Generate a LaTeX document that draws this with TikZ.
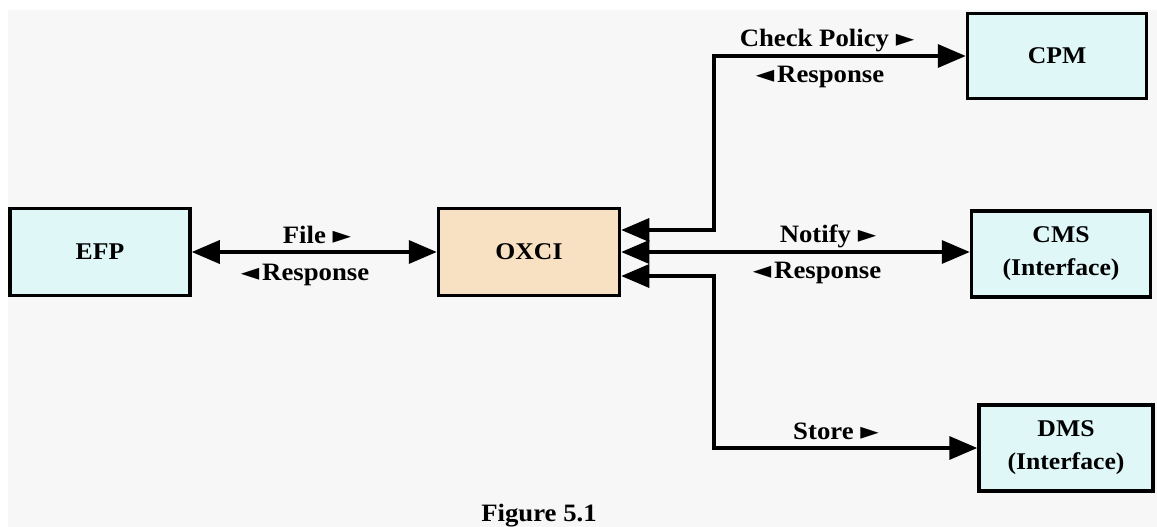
\documentclass[tikz,border=0pt]{standalone}
\usepackage{fontspec}
\setmainfont[FakeStretch=1.07]{Liberation Serif}
\newfontfamily\symfont{DejaVu Sans}
\usetikzlibrary{arrows.meta}
\definecolor{pagegray}{HTML}{F7F7F7}
\definecolor{boxcyan}{HTML}{DFF7F7}
\definecolor{boxtan}{HTML}{F8E1C2}
% direction markers next to message names
\newcommand\rtri{{\symfont\fontsize{24}{24}\selectfont ►}}
\newcommand\ltri{{\symfont\fontsize{24}{24}\selectfont ◄}}
\tikzset{
  unit/.style={draw=black, line width=3.5pt, fill=boxcyan, inner sep=0pt,
    align=center, font=\bfseries\fontsize{24}{33}\selectfont},
  flow/.style={line width=3.5pt,
    {Triangle[length=28pt,width=23pt]}-{Triangle[length=28pt,width=23pt]}},
  msg/.style={anchor=base, inner sep=0pt, font=\bfseries\fontsize{25}{25}\selectfont},
}
\begin{document}
\begin{tikzpicture}[x=1pt,y=-1pt]
  \useasboundingbox (0,0) rectangle (1157,527);
  \clip (0,0) rectangle (1157,527);
  \fill[white] (0,0) rectangle (1157,527);
  \fill[pagegray] (8,10) rectangle (1157,527);

  % components
  \node[unit, minimum width=180pt, minimum height=87pt] (efp)  at (100,252) {EFP};
  \node[unit, fill=boxtan, minimum width=181pt, minimum height=87pt] (oxci) at (529,252) {OXCI};
  \node[unit, minimum width=179pt, minimum height=85pt] (cpm)  at (1057,56) {CPM};
  \node[unit, minimum width=179pt, minimum height=86pt] (cms)  at (1061,254) {CMS\\(Interface)};
  \node[unit, minimum width=174pt, minimum height=86pt] (dms)  at (1066,448) {DMS\\(Interface)};

  % junction points of the branching connectors
  \coordinate (j1) at (714,230);
  \coordinate (j3) at (714,276);

  % connectors
  \draw[flow] (efp.east) -- (oxci.west);
  \draw[flow] (oxci.east |- j1) -- (j1) |- (cpm.west);
  \draw[flow] (oxci.east) -- (oxci.east -| cms.west);
  \draw[flow] (oxci.east |- j3) -- (j3) |- (dms.west);

  % message labels
  \node[msg] (file)    at (317,243) {File \rtri};
  \node[msg] (efpresp) at (305,280) {\ltri\kern3pt Response};
  \node[msg] (check)   at (827,47)  {Check Policy \rtri};
  \node[msg] (cpmresp) at (820,82)  {\ltri\kern3pt Response};
  \node[msg] (notify)  at (828,242) {Notify \rtri};
  \node[msg] (cmsresp) at (817,278) {\ltri\kern3pt Response};
  \node[msg] (store)   at (836,439) {Store \rtri};

  % caption
  \node[msg] (caption) at (539,521) {Figure 5.1};
\end{tikzpicture}
\end{document}
